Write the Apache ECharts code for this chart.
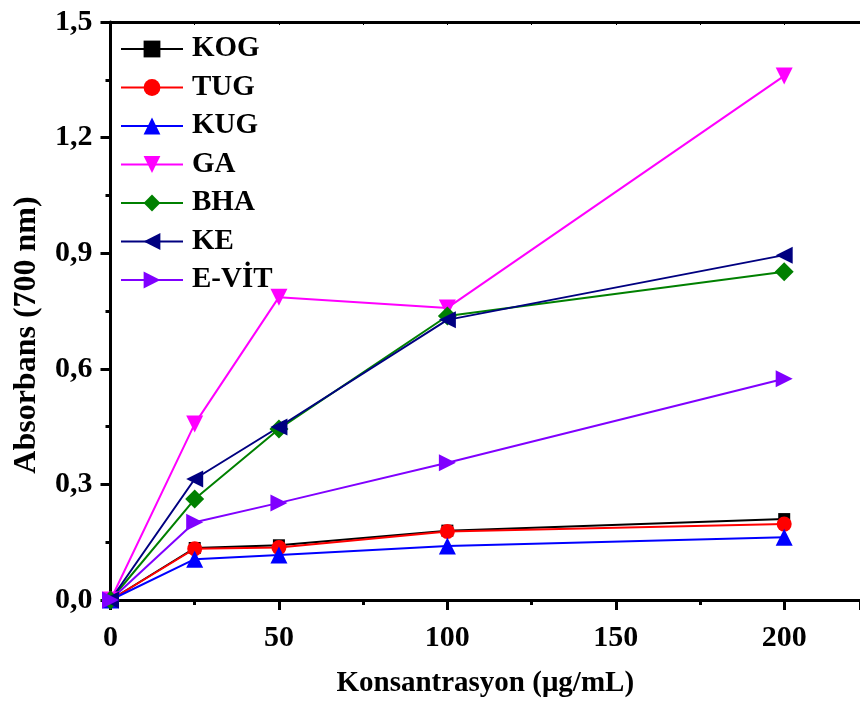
<!DOCTYPE html>
<html>
<head>
<meta charset="utf-8">
<script src="https://cdn.jsdelivr.net/npm/echarts@6/dist/echarts.min.js"></script>
<style>
  html, body { margin: 0; padding: 0; background: #fff; }
  #chart { width: 860px; height: 707px; }
</style>
</head>
<body>
<div id="chart"></div>
<script>
// konsantrasyon (µg/mL)
const xValues = [0, 25, 50, 100, 200];

// absorbans (700 nm), okunan değerler
const kog = [0, 0.135, 0.142, 0.180, 0.210];
const tug = [0, 0.133, 0.136, 0.178, 0.197];
const kug = [0, 0.106, 0.117, 0.140, 0.163];
const ga = [0, 0.457, 0.786, 0.758, 1.360];
const bha = [0, 0.262, 0.444, 0.737, 0.852];
const ke = [0, 0.314, 0.449, 0.727, 0.895];
const evit = [0, 0.202, 0.252, 0.356, 0.574];

const seriesNames = ['KOG', 'TUG', 'KUG', 'GA', 'BHA', 'KE', 'E-VİT'];

const fontFamily = '"Liberation Serif", "DejaVu Serif", serif';

const pairs = (ys) => xValues.map((x, i) => [x, ys[i]]);

// seri tanımı
const makeSeries = (name, ys, color, symbol, size, rotate) => ({
    name: name,
    type: 'line',
    data: pairs(ys),
    symbol: symbol,
    symbolSize: size,
    symbolRotate: rotate || 0,
    showAllSymbol: true,
    lineStyle: { color: color, width: 2 },
    itemStyle: { color: color },
    emphasis: { disabled: true },
    z: 3
});

const chart = echarts.init(document.getElementById('chart'));

const option = {
    animation: false,
    backgroundColor: '#fff',
    grid: { left: 110.5, right: 0, top: 22, bottom: 107 },
    legend: {
        data: seriesNames,
        orient: 'vertical',
        left: 115,
        top: 29,
        itemWidth: 62,
        itemHeight: 21,
        itemGap: 8.5,
        textStyle: {
            fontFamily: fontFamily,
            fontWeight: 'bold',
            fontSize: 29,
            color: '#000',
            lineHeight: 30,
            padding: [0, 0, 0, 4]
        }
    },
    graphic: [
        {
            type: 'text',
            x: 27,
            y: 335,
            rotation: Math.PI / 2,
            style: {
                text: 'Absorbans (700 nm)',
                fontFamily: fontFamily,
                fontWeight: 'bold',
                fontSize: 32,
                fill: '#000',
                align: 'center',
                verticalAlign: 'middle'
            }
        }
    ],
    xAxis: [
        {
            type: 'value',
            min: 0,
            max: 222.5,
            interval: 50,
            position: 'bottom',
            axisLine: { show: true, onZero: false, lineStyle: { color: '#000', width: 3 } },
            axisTick: { show: true, inside: false, length: 10, lineStyle: { color: '#000', width: 3 } },
            minorTick: { show: true, splitNumber: 2, length: 5, lineStyle: { color: '#000', width: 3 } },
            splitLine: { show: false },
            axisLabel: {
                fontFamily: fontFamily,
                fontWeight: 'bold',
                fontSize: 30,
                color: '#000',
                margin: 23,
                showMaxLabel: false
            },
            name: 'Konsantrasyon (μg/mL)',
            nameLocation: 'middle',
            nameGap: 69,
            nameTextStyle: { fontFamily: fontFamily, fontWeight: 'bold', fontSize: 29, color: '#000' }
        },
        {
            type: 'value',
            min: 0,
            max: 222.5,
            interval: 25,
            position: 'top',
            axisLine: { show: true, onZero: false, lineStyle: { color: '#000', width: 3 } },
            axisTick: { show: true, inside: true, length: 3, lineStyle: { color: '#000', width: 1 } },
            splitLine: { show: false },
            axisLabel: { show: false }
        }
    ],
    yAxis: {
        type: 'value',
        min: 0,
        max: 1.5,
        interval: 0.3,
        axisLine: { show: true, onZero: false, lineStyle: { color: '#000', width: 3 } },
        axisTick: { show: true, inside: false, length: 10, lineStyle: { color: '#000', width: 3 } },
        minorTick: { show: true, splitNumber: 2, length: 5, lineStyle: { color: '#000', width: 3 } },
        splitLine: { show: false },
        axisLabel: {
            fontFamily: fontFamily,
            fontWeight: 'bold',
            fontSize: 30,
            color: '#000',
            margin: 18,
            formatter: (v) => v.toFixed(1).replace('.', ',')
        }
    },
    series: [
        makeSeries('KOG', kog, '#000000', 'rect', 12),
        makeSeries('TUG', tug, '#ff0000', 'circle', 15),
        makeSeries('KUG', kug, '#0000ff', 'triangle', 17),
        makeSeries('GA', ga, '#ff00ff', 'triangle', 17, 180),
        makeSeries('BHA', bha, '#008000', 'diamond', 19),
        makeSeries('KE', ke, '#000080', 'triangle', 17, 90),
        makeSeries('E-VİT', evit, '#8000ff', 'triangle', 17, -90)
    ]
};

chart.setOption(option);
</script>
</body>
</html>
